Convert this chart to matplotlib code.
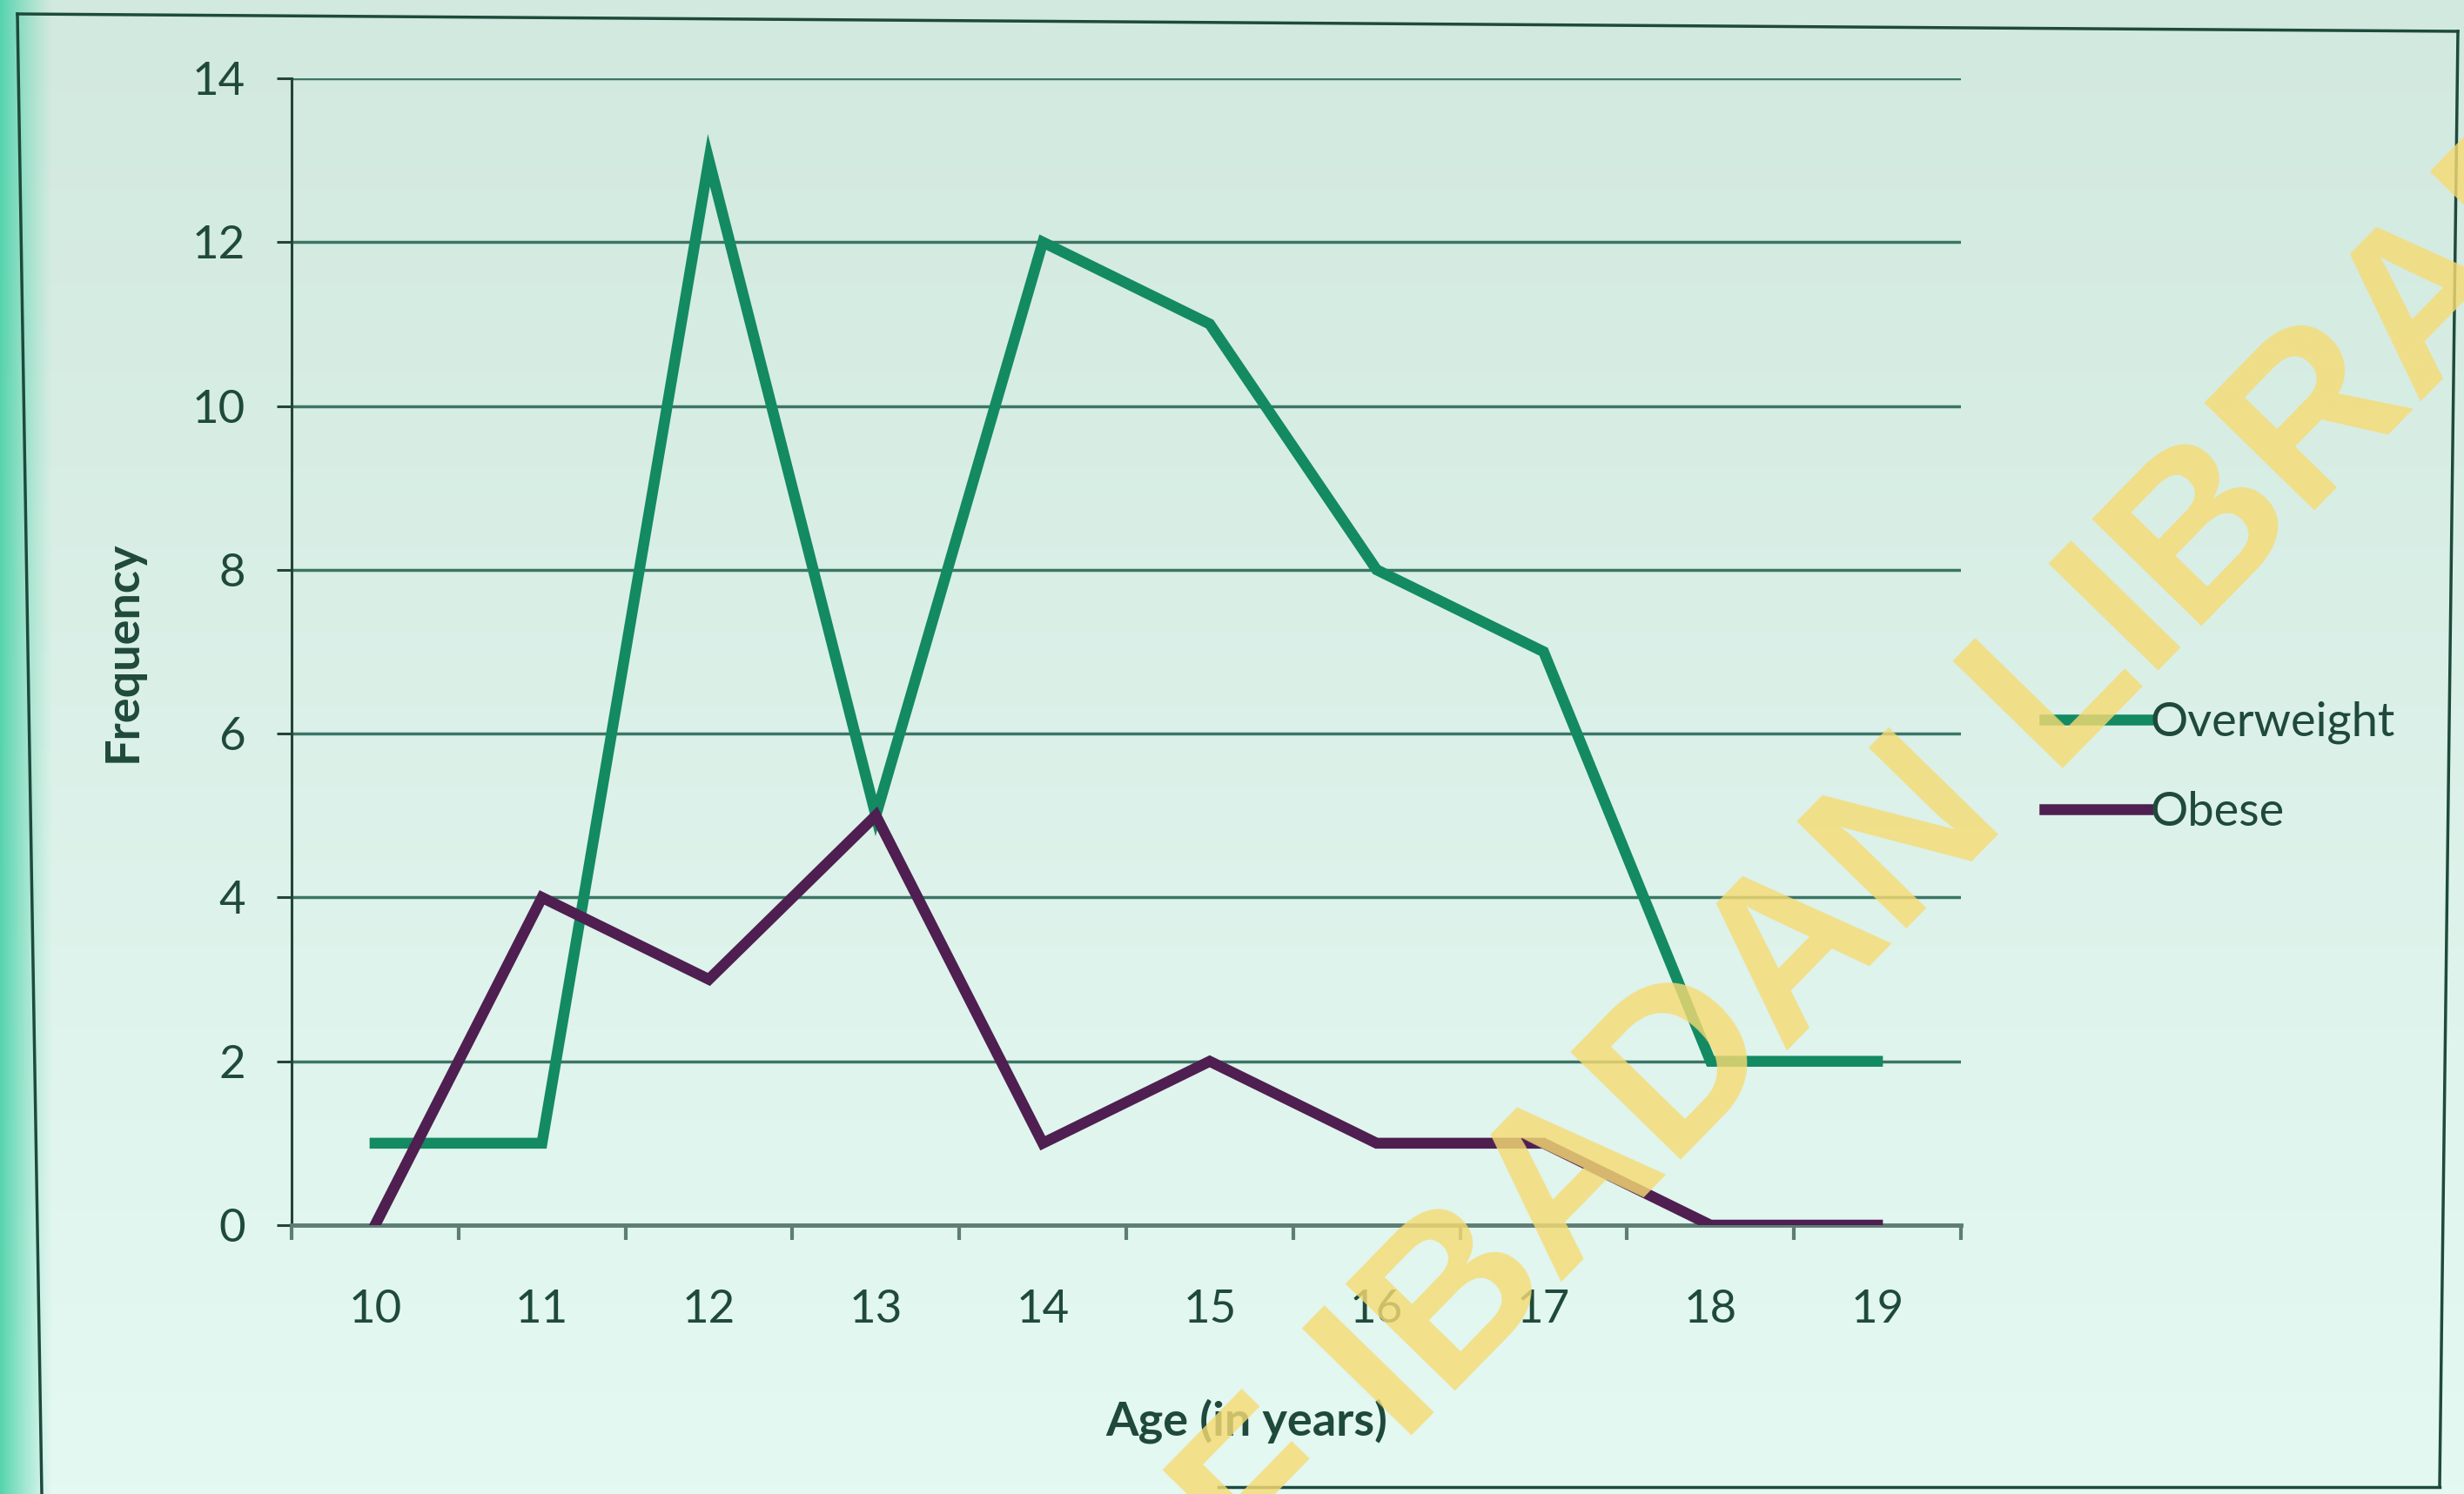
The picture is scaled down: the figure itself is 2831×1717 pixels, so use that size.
import numpy as np
import matplotlib.pyplot as plt
from matplotlib.lines import Line2D
from matplotlib.colors import LinearSegmentedColormap, to_rgb

# Frequency of overweight / obese by age
ages = [10, 11, 12, 13, 14, 15, 16, 17, 18, 19]
overweight = [1, 1, 13, 5, 12, 11, 8, 7, 2, 2]
obese = [0, 4, 3, 5, 1, 2, 1, 1, 0, 0]
y_ticks = [0, 2, 4, 6, 8, 10, 12, 14]

W, H = 2831, 1717
fig = plt.figure(figsize=(W / 100, H / 100), dpi=100)

# mint page: slightly darker at the top, lighter near the bottom
bg = fig.add_axes([0, 0, 1, 1], zorder=-5)
bg.axis('off')
page = LinearSegmentedColormap.from_list('page', ['#d2e9df', '#e4f9f2'])
bg.imshow(np.linspace(0, 1, 300)[:, None], cmap=page, aspect='auto',
          extent=[0, 1, 0, 1], origin='upper')
# teal strip along the left edge
px = np.arange(W)
fade = np.clip(1 - px / 60.0, 0, 1) ** 1.2
strip = np.zeros((1, W, 4))
strip[..., :3] = to_rgb('#55d4ac')
strip[..., 3] = fade
bg.imshow(strip, aspect='auto', extent=[0, 1, 0, 1])
bg.set_xlim(0, 1)
bg.set_ylim(0, 1)

# photo frame edges
frame_col = '#1d4a3c'
for xx, yy in [([20, 2824], [16, 36]), ([20, 48], [16, 1717]),
               ([2824, 2803], [36, 1709]), ([1400, 2803], [1709, 1709])]:
    fig.add_artist(Line2D([x / W for x in xx], [1 - y / H for y in yy],
                          color=frame_col, lw=2.5))

text_col = '#1f4a3b'
plt.rcParams['font.family'] = ['Lato', 'DejaVu Sans']

left, right, top, bottom = 335, 2253, 90, 1408
ax = fig.add_axes([left / W, 1 - bottom / H, (right - left) / W, (bottom - top) / H])
ax.set_facecolor('none')

ax.plot(ages, overweight, color='#138a62', lw=9, label='Overweight',
        solid_joinstyle='miter', zorder=4)
ax.plot(ages, obese, color='#4e1f50', lw=9, label='Obese',
        solid_joinstyle='miter', zorder=5)

ax.set_xlim(9.5, 19.5)
ax.set_ylim(0, 14)
ax.set_yticks(y_ticks)
ax.set_xticks(ages)
ax.set_xticks(np.arange(9.5, 20, 1), minor=True)

ax.yaxis.grid(True, color='#3c7565', lw=2.5)
ax.set_axisbelow(True)

for s in ['top', 'right']:
    ax.spines[s].set_visible(False)
ax.spines['left'].set_color('#244438')
ax.spines['left'].set_linewidth(2.2)
ax.spines['bottom'].set_color('#5e7d73')
ax.spines['bottom'].set_linewidth(3.5)

ax.tick_params(axis='y', direction='out', length=12, width=2.2,
               color='#244438', pad=26, labelsize=38, labelcolor=text_col)
ax.tick_params(axis='x', which='major', length=0, pad=53,
               labelsize=38, labelcolor=text_col)
ax.tick_params(axis='x', which='minor', direction='out', length=12,
               width=3, color='#5e7d73')

ax.set_ylabel('Frequency', fontsize=39, fontweight='bold', color=text_col)
ax.yaxis.set_label_coords((166 - left) / (right - left), 0.5)
ax.set_xlabel('Age (in years)', fontsize=39, fontweight='bold', color=text_col)
ax.xaxis.set_label_coords((1432 - left) / (right - left),
                          (bottom - 1607) / (bottom - top))

ax.legend(loc='center left', bbox_to_anchor=(2300 / W, 1 - 882 / H),
          bbox_transform=fig.transFigure, frameon=False, fontsize=39,
          labelcolor=text_col, handlelength=2.2, handletextpad=0.05,
          labelspacing=1.0)

# library watermark over the page
fig.text(1621 / W, 1 - 1555 / H, 'UNIVERSITY OF IBADAN LIBRARY',
         fontsize=185, family='Liberation Sans', fontweight='bold',
         color='#f6db74', alpha=0.82, rotation=45.7, rotation_mode='anchor',
         ha='center', va='center', zorder=20)

fig.savefig('out.png', dpi=100)
